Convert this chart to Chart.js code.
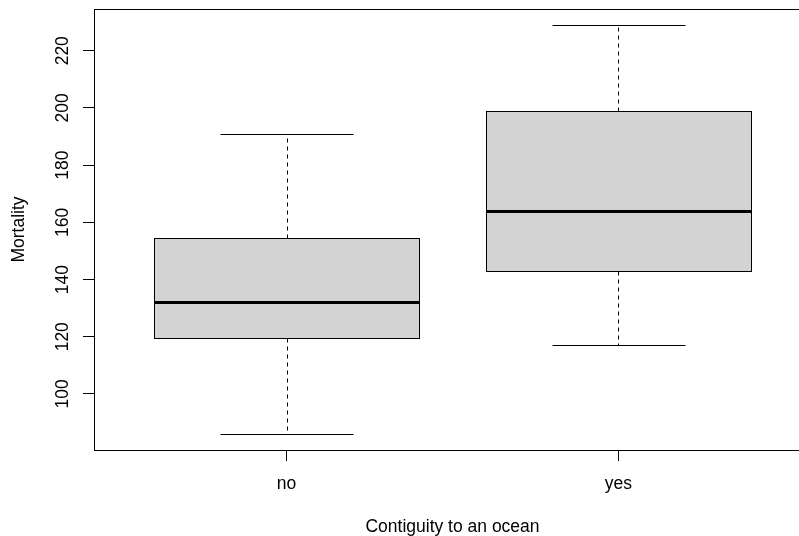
<!DOCTYPE html>
<html lang="en">

<head>
    <meta charset="UTF-8" />
    <script src="https://cdn.jsdelivr.net/npm/chart.js"></script>
    <title>Mortality boxplot</title>
    <style>
        html, body { margin: 0; padding: 0; overflow: hidden; background: #fff; }
        canvas { display: block; }
    </style>
</head>

<body>
    <canvas id="BoxChart" width="830" height="536"></canvas>
</body>

</html>

<script>
    // values
    const groups = ['no', 'yes'];
    const whiskerLow = [86, 117];
    const lowerQuartile = [119.5, 143];
    const medians = [132, 164];
    const upperQuartile = [154.5, 199];
    const whiskerHigh = [191, 229];
    const yTicks = [100, 120, 140, 160, 180, 200, 220];

    Chart.defaults.font.family = "'Liberation Sans', Arial, sans-serif";
    Chart.defaults.font.size = 17.5;
    Chart.defaults.color = '#000';

    // draws boxes, whiskers and the frame through the chart scales
    const boxPlugin = {
        id: 'boxPlugin',
        afterDatasetsDraw(chart) {
            const ctx = chart.ctx;
            const x = chart.scales.x;
            const y = chart.scales.y;
            const area = chart.chartArea;

            ctx.save();
            ctx.strokeStyle = '#000';
            ctx.lineWidth = 1;

            groups.forEach((g, i) => {
                const pos = i + 1;
                const cx = Math.round(x.getPixelForValue(pos)) + 0.5;
                const boxL = Math.round(x.getPixelForValue(pos - 0.4)) + 0.5;
                const boxR = Math.round(x.getPixelForValue(pos + 0.4)) + 0.5;
                const capL = Math.round(x.getPixelForValue(pos - 0.2)) + 0.5;
                const capR = Math.round(x.getPixelForValue(pos + 0.2)) + 0.5;
                const yLo = Math.round(y.getPixelForValue(whiskerLow[i])) + 0.5;
                const yQ1 = Math.round(y.getPixelForValue(lowerQuartile[i])) + 0.5;
                const yMed = Math.round(y.getPixelForValue(medians[i]));
                const yQ3 = Math.round(y.getPixelForValue(upperQuartile[i])) + 0.5;
                const yHi = Math.round(y.getPixelForValue(whiskerHigh[i])) + 0.5;

                // whiskers
                ctx.setLineDash([4, 4]);
                ctx.beginPath();
                ctx.moveTo(cx, yQ3);
                ctx.lineTo(cx, yHi);
                ctx.moveTo(cx, yQ1);
                ctx.lineTo(cx, yLo);
                ctx.stroke();
                ctx.setLineDash([]);

                // staples
                ctx.beginPath();
                ctx.moveTo(capL, yHi);
                ctx.lineTo(capR, yHi);
                ctx.moveTo(capL, yLo);
                ctx.lineTo(capR, yLo);
                ctx.stroke();

                // box
                ctx.fillStyle = '#d3d3d3';
                ctx.fillRect(boxL, yQ3, boxR - boxL, yQ1 - yQ3);
                ctx.strokeRect(boxL, yQ3, boxR - boxL, yQ1 - yQ3);

                // median
                ctx.lineWidth = 3;
                ctx.beginPath();
                ctx.moveTo(boxL - 0.5, yMed + 0.5);
                ctx.lineTo(boxR + 0.5, yMed + 0.5);
                ctx.stroke();
                ctx.lineWidth = 1;
            });

            // plot frame
            ctx.strokeRect(area.left + 0.5, area.top + 0.5, area.right - area.left, area.bottom - area.top);
            ctx.restore();
        }
    };

    // keep the plot region where the reference has it
    function noEdgePadding(axis) {
        axis.paddingTop = 0;
        axis.paddingBottom = 0;
        axis.paddingLeft = 0;
        axis.paddingRight = 0;
    }

    const ctx = document.getElementById('BoxChart').getContext('2d');

    const BoxChart = new Chart(ctx, {
        type: 'scatter',
        data: {
            datasets: [{
                data: [],
                pointRadius: 0
            }]
        },
        options: {
            responsive: false,
            animation: false,
            events: [],
            layout: {
                padding: { left: 0, top: 9, right: 19, bottom: 0 }
            },
            scales: {
                x: {
                    type: 'linear',
                    min: 0.42,
                    max: 2.58,
                    afterBuildTicks: (axis) => {
                        axis.ticks = groups.map((g, i) => ({ value: i + 1 }));
                    },
                    afterFit: (axis) => {
                        axis.height = 86;
                        noEdgePadding(axis);
                    },
                    ticks: {
                        callback: (value) => groups[value - 1],
                        autoSkip: false,
                        maxRotation: 0,
                        minRotation: 0,
                        padding: 13,
                        color: '#000'
                    },
                    grid: {
                        display: true,
                        drawOnChartArea: false,
                        drawTicks: true,
                        tickLength: 11,
                        color: '#000',
                        lineWidth: 1
                    },
                    border: {
                        display: true,
                        color: '#000',
                        width: 1
                    },
                    title: {
                        display: true,
                        text: 'Contiguity to an ocean',
                        color: '#000',
                        padding: { top: 0, bottom: -1.5 }
                    }
                },
                y: {
                    type: 'linear',
                    min: 80.4,
                    max: 234.6,
                    afterBuildTicks: (axis) => {
                        axis.ticks = yTicks.map(v => ({ value: v }));
                    },
                    afterFit: (axis) => {
                        axis.width = 94;
                        noEdgePadding(axis);
                    },
                    ticks: {
                        minRotation: 90,
                        maxRotation: 90,
                        crossAlign: 'center',
                        padding: 5,
                        color: '#000'
                    },
                    grid: {
                        display: true,
                        drawOnChartArea: false,
                        drawTicks: true,
                        tickLength: 11,
                        color: '#000',
                        lineWidth: 1
                    },
                    border: {
                        display: true,
                        color: '#000',
                        width: 1
                    },
                    title: {
                        display: true,
                        text: 'Mortality',
                        color: '#000',
                        padding: { top: 8.5, bottom: 0 }
                    }
                }
            },
            plugins: {
                legend: { display: false },
                tooltip: { enabled: false }
            }
        },
        plugins: [boxPlugin]
    });
</script>
